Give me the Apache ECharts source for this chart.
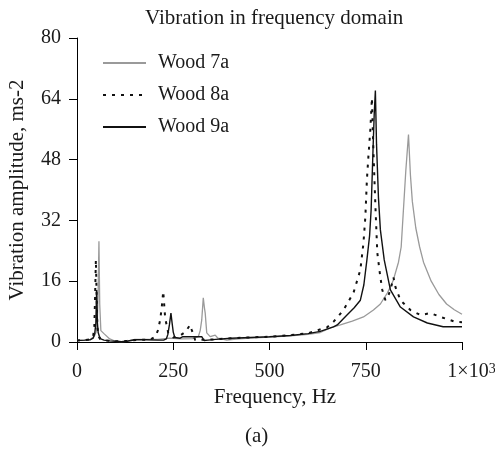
<!DOCTYPE html>
<html>
<head>
<meta charset="utf-8">
<script src="https://cdn.jsdelivr.net/npm/echarts@6/dist/echarts.min.js"></script>
<style>
  html, body { margin: 0; padding: 0; background: #fff; }
  #chart { width: 495px; height: 453px; }
</style>
</head>
<body>
<div id="chart"></div>
<script>
// Frequency spectra of three wood samples (Hz vs ms-2)
const wood7aFreq = [0, 20, 35, 45, 50, 53, 55, 57, 59, 62, 70, 85, 100, 115, 130, 150, 180, 210, 240, 270, 300, 315, 320, 324, 328, 331, 333, 337, 346, 359, 366, 389, 420, 450, 500, 554, 600, 632, 658, 684, 715, 744, 770, 788, 806, 814, 822, 835, 842, 848, 854, 861, 866, 871, 880, 890, 900, 920, 940, 960, 980, 1000];
const wood7aAmp  = [0.4, 0.5, 0.7, 1.5, 2.7, 6, 14, 26.5, 10, 3, 2.2, 0.8, 0.2, 0.1, 0.2, 0.7, 0.7, 0.7, 1.0, 0.8, 0.9, 1.4, 3, 5.8, 11.6, 9, 7.6, 2.4, 1.4, 1.8, 1.0, 0.5, 0.8, 1.0, 1.3, 1.6, 2.0, 2.5, 3.7, 4.5, 5.5, 6.6, 8.4, 10, 12.9, 14.5, 16.4, 21, 25, 35, 45, 54.6, 44, 37, 30, 25, 21, 16, 12.5, 10, 8.5, 7.3];

const wood8aFreq = [0, 20, 35, 42, 45, 47, 49, 51, 53, 56, 60, 70, 85, 100, 130, 160, 190, 203, 210, 216, 220, 224, 229, 237, 250, 265, 281, 294, 298, 307, 330, 360, 400, 450, 500, 554, 600, 650, 666, 692, 718, 736, 744, 749, 753, 757, 762, 766, 770, 775, 780, 788, 793, 801, 808, 815, 822, 827, 840, 866, 892, 918, 944, 983, 1000];
const wood8aAmp  = [0.4, 0.5, 0.7, 1.5, 4, 12, 21.6, 12, 4, 1.5, 0.8, 0.5, 0.3, 0.2, 0.3, 0.6, 0.6, 1.4, 3, 5.8, 9, 13.3, 6.3, 2.4, 1.2, 1.5, 2.6, 4.5, 3.2, 0.5, 0.6, 0.7, 1.0, 1.2, 1.4, 1.8, 2.3, 3.9, 5.3, 8.4, 12.9, 19, 26, 33, 42.7, 49, 56, 64.2, 50, 36, 23.5, 17, 13.7, 11, 12, 14, 17, 14.5, 11, 8.4, 7.1, 7.6, 6.6, 5.3, 5.2];

const wood9aFreq = [0, 20, 35, 42, 46, 49, 51, 53, 55, 58, 62, 70, 85, 100, 115, 130, 150, 180, 210, 225, 232, 236, 240, 244, 247, 250, 254, 258, 268, 275, 300, 324, 330, 340, 360, 400, 450, 500, 554, 600, 632, 666, 676, 700, 720, 736, 745, 753, 760, 764, 769, 772, 775, 778, 783, 788, 798, 814, 840, 874, 910, 951, 1000];
const wood9aAmp  = [0.4, 0.5, 0.6, 1.0, 2.2, 5, 13.7, 5, 2.5, 1.5, 0.8, 0.5, 0.3, 0.2, 0.1, 0.2, 0.6, 0.6, 0.5, 0.5, 0.8, 2.0, 4.5, 7.6, 5, 2.6, 1.2, 1.0, 1.0, 1.4, 1.4, 1.4, 0.4, 0.5, 0.7, 1.0, 1.2, 1.4, 1.7, 2.2, 2.8, 4.0, 4.5, 7, 9, 11, 15, 21.6, 28, 34.8, 51, 60, 66.2, 52, 38, 29.5, 21.6, 13.7, 9.2, 6.6, 5, 4, 4];

const xTicks = [0, 250, 500, 750, 1000];
const yTicks = [0, 16, 32, 48, 64, 80];

const SERIF = '"Liberation Serif", "Times New Roman", serif';
const TEXT = '#1a1a1a';

function pairs(xs, ys) {
  return xs.map((x, i) => [x, ys[i]]);
}

const chart = echarts.init(document.getElementById('chart'), null, { renderer: 'canvas' });

chart.setOption({
  animation: false,
  backgroundColor: '#fff',
  title: {
    text: 'Vibration in frequency domain',
    left: 140,
    top: 3,
    textStyle: { fontFamily: SERIF, fontSize: 21, fontWeight: 'normal', color: TEXT }
  },
  legend: {
    orient: 'vertical',
    left: 97,
    top: 48,
    itemWidth: 43,
    itemHeight: 14,
    itemGap: 12,
    itemStyle: { opacity: 0 },
    textStyle: { fontFamily: SERIF, fontSize: 20, color: TEXT, padding: [0, 0, 0, 7] },
    data: ['Wood 7a', 'Wood 8a', 'Wood 9a']
  },
  // fixed plot rectangle; the last tick label is allowed to run off the right edge
  grid: { left: 77, right: 33, top: 38, bottom: 111, outerBoundsMode: 'none', containLabel: false },
  xAxis: {
    type: 'value',
    min: xTicks[0],
    max: xTicks[xTicks.length - 1],
    interval: 250,
    name: 'Frequency, Hz',
    nameLocation: 'middle',
    nameGap: 42,
    nameTextStyle: { fontFamily: SERIF, fontSize: 21, color: TEXT, padding: [0, 0, 0, 11] },
    axisLine: { lineStyle: { color: '#000', width: 1 } },
    axisTick: { inside: false, length: 8, lineStyle: { color: '#000' } },
    splitLine: { show: false },
    axisLabel: {
      margin: 20,
      fontFamily: SERIF,
      fontSize: 20,
      color: TEXT,
      hideOverlap: false,
      formatter: v => (v === 1000 ? '{a|1×10}{s|3}' : String(v)),
      rich: {
        a: { fontFamily: SERIF, fontSize: 20, color: TEXT, padding: [0, 0, 0, 19] },
        s: { fontFamily: SERIF, fontSize: 14, color: TEXT, verticalAlign: 'top' }
      }
    }
  },
  yAxis: {
    type: 'value',
    min: yTicks[0],
    max: yTicks[yTicks.length - 1],
    interval: 16,
    name: 'Vibration amplitude, ms-2',
    nameLocation: 'middle',
    nameGap: 49,
    nameTextStyle: { fontFamily: SERIF, fontSize: 21, color: TEXT },
    axisLine: { show: true, lineStyle: { color: '#000', width: 1 } },
    axisTick: { show: true, inside: false, length: 8, lineStyle: { color: '#000' } },
    splitLine: { show: false },
    axisLabel: { margin: 16, fontFamily: SERIF, fontSize: 20, color: TEXT }
  },
  graphic: [{
    type: 'text',
    left: 245,
    top: 426,
    style: { text: '(a)', font: '21px ' + SERIF, fill: TEXT }
  }],
  series: [
    {
      name: 'Wood 7a',
      type: 'line',
      symbol: 'none',
      z: 2,
      color: '#9a9a9a',
      lineStyle: { color: '#9a9a9a', width: 1.3 },
      data: pairs(wood7aFreq, wood7aAmp)
    },
    {
      name: 'Wood 8a',
      type: 'line',
      symbol: 'none',
      z: 3,
      color: '#111',
      lineStyle: { color: '#111', width: 2, type: [3, 6] },
      data: pairs(wood8aFreq, wood8aAmp)
    },
    {
      name: 'Wood 9a',
      type: 'line',
      symbol: 'none',
      z: 4,
      color: '#111',
      lineStyle: { color: '#111', width: 1.4 },
      data: pairs(wood9aFreq, wood9aAmp)
    }
  ]
});
</script>
</body>
</html>
